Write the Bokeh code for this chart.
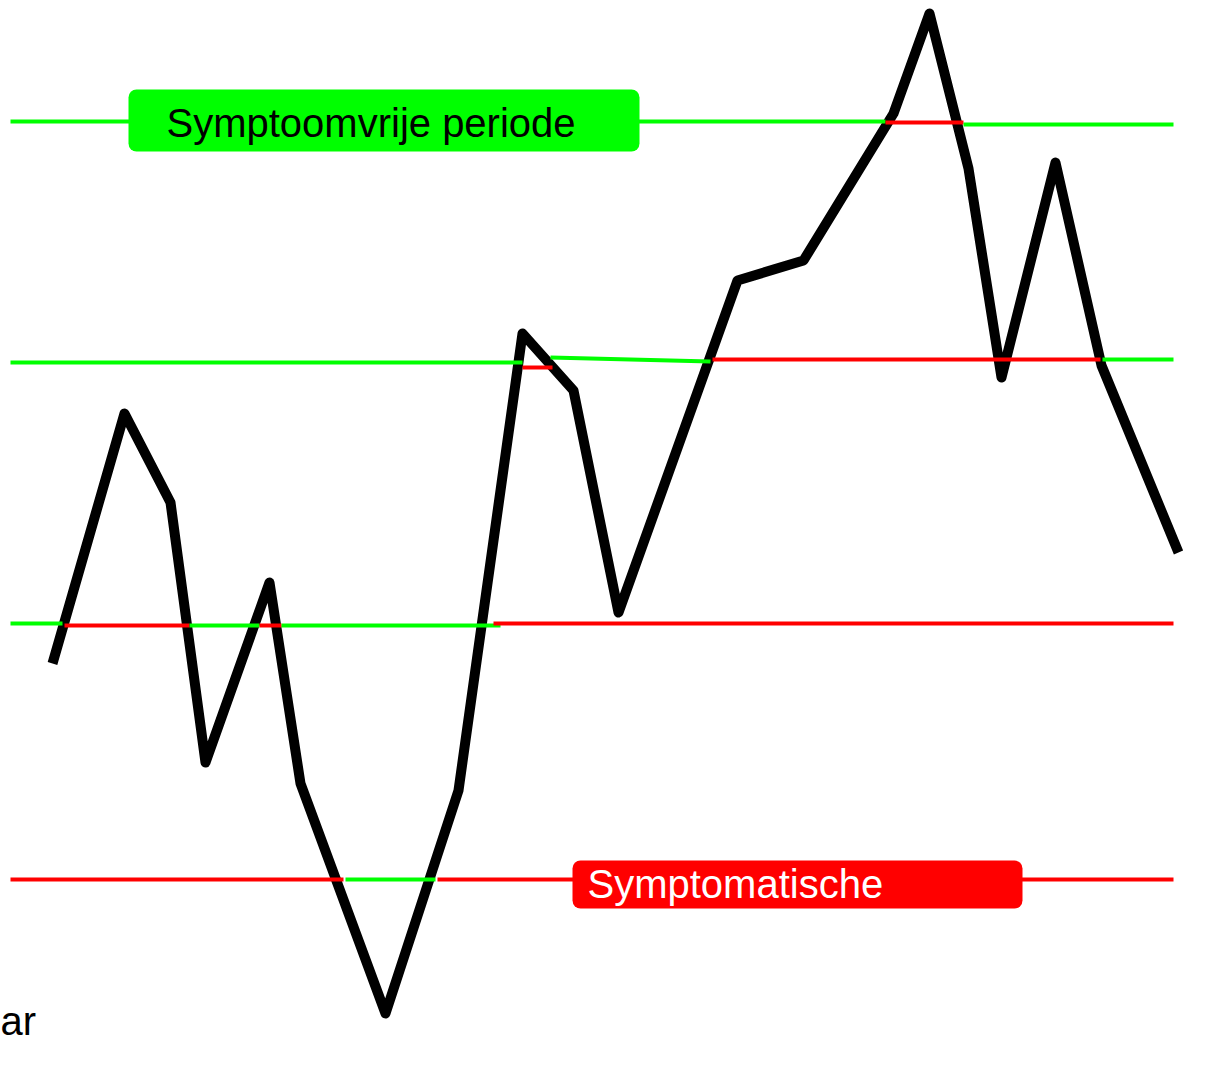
from bokeh.plotting import figure
from bokeh.models import Range1d, BoxAnnotation, Label, ColumnDataSource
from bokeh.embed import file_html
from bokeh.resources import INLINE

# Black curve (diagram units = picture pixels)
curve_x = [52, 124, 170, 205, 269, 300, 385, 458, 522, 573, 618, 737, 803, 893, 929, 968, 1001, 1055, 1101, 1178]
curve_y = [663, 413, 502, 762, 582, 783, 1013, 790, 333, 390, 612, 280, 260, 113, 13, 168, 377, 162, 365, 552]

# Threshold segments
seg_x0 = [10, 885, 963, 10, 522, 550, 712, 1102, 10, 64, 189, 259, 281, 493, 10, 345, 437]
seg_x1 = [885, 963, 1173, 522, 552, 710, 1100, 1173, 62, 189, 259, 281, 500, 1173, 343, 435, 1173]
seg_y0 = [121, 122, 124, 362, 367, 357, 359, 359, 623, 625, 625, 625, 625, 623, 879, 879, 879]
seg_y1 = [121, 122, 124, 362, 367, 361, 359, 359, 623, 625, 625, 625, 625, 623, 879, 879, 879]
seg_state = ["g", "r", "g", "g", "r", "g", "r", "g", "g", "r", "g", "r", "g", "r", "r", "g", "r"]

labels = ["Symptoomvrije periode", "Symptomatische", "ar"]

GREEN = "#00ff00"
RED = "#ff0000"

p = figure(width=1214, height=1065, output_backend="svg", toolbar_location=None,
           x_range=Range1d(0, 1214), y_range=Range1d(1065, 0),
           min_border=0, outline_line_color=None)
p.axis.visible = False
p.grid.visible = False
p.background_fill_color = "white"
p.border_fill_color = "white"

p.line(curve_x, curve_y, line_color="black", line_width=10, line_join="round", line_cap="butt")

colors = [GREEN if s == "g" else RED for s in seg_state]
src = ColumnDataSource(dict(x0=seg_x0, x1=seg_x1, y0=seg_y0, y1=seg_y1, c=colors))
p.segment(x0="x0", y0="y0", x1="x1", y1="y1", color="c", line_width=4, source=src)

# Label boxes
p.add_layout(BoxAnnotation(left=128, right=639, top=89, bottom=151, fill_color=GREEN,
                           fill_alpha=1, line_color=None, border_radius=8, level="overlay"))
p.add_layout(BoxAnnotation(left=572, right=1022, top=860, bottom=908, fill_color=RED,
                           fill_alpha=1, line_color=None, border_radius=8, level="overlay"))

p.add_layout(Label(x=166, y=122, text=labels[0], text_font="Liberation Sans", text_font_size="40px",
                   text_color="black", text_baseline="middle", text_align="left", level="overlay"))
p.add_layout(Label(x=587, y=883, text=labels[1], text_font="Liberation Sans", text_font_size="40px",
                   text_color="white", text_baseline="middle", text_align="left", level="overlay"))
p.add_layout(Label(x=0, y=1020, text=labels[2], text_font="Liberation Sans", text_font_size="40px",
                   text_color="black", text_baseline="middle", text_align="left", level="overlay"))

open("out.html", "w").write(file_html(p, INLINE))
